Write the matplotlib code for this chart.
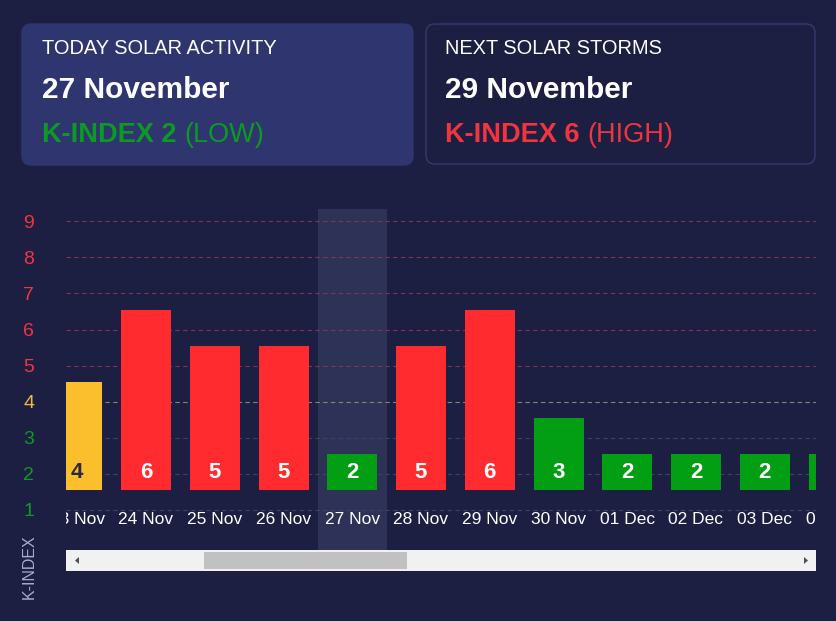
import matplotlib
matplotlib.use('Agg')
import matplotlib.pyplot as plt
from matplotlib.patches import FancyBboxPatch, Rectangle, Polygon

# ---------------- data ----------------
dates = ['23 Nov', '24 Nov', '25 Nov', '26 Nov', '27 Nov', '28 Nov',
         '29 Nov', '30 Nov', '01 Dec', '02 Dec', '03 Dec', '04 Dec']
kindex = [4, 6, 5, 5, 2, 5, 6, 3, 2, 2, 2, 2]
today_label = '27 Nov'
levels = [1, 2, 3, 4, 5, 6, 7, 8, 9]

card1_title = 'TODAY SOLAR ACTIVITY'
card1_date = '27 November'
card1_k = 2
card1_level = '(LOW)'
card2_title = 'NEXT SOLAR STORMS'
card2_date = '29 November'
card2_k = 6
card2_level = '(HIGH)'

# ---------------- style ----------------
BG = '#1c1f42'
CARD = '#2f356f'
RED = '#ff2b2e'
YEL = '#fbbf2d'
GRN = '#029e14'
TXT_RED = '#f0353f'
TXT_YEL = '#f5b83a'
TXT_GRN = '#0c9a22'
FONT = 'Liberation Sans'


def kcolor(v):
    return RED if v >= 5 else (YEL if v == 4 else GRN)


def tick_color(v):
    return TXT_RED if v >= 5 else (TXT_YEL if v == 4 else TXT_GRN)


def grid_color(v):
    return '#7a3656' if v >= 5 else ('#8c8468' if v == 4 else '#3e4266')


W, H = 836, 621
fig = plt.figure(figsize=(W / 100, H / 100), dpi=100, facecolor=BG)

# overlay axes in pixel coordinates
ov = fig.add_axes([0, 0, 1, 1], zorder=0)
ov.set_xlim(0, W)
ov.set_ylim(H, 0)
ov.axis('off')

# ---- cards ----
c1 = FancyBboxPatch((22, 24), 391, 141, boxstyle='round,pad=0,rounding_size=9',
                    facecolor=CARD, edgecolor=CARD, lw=1)
c2 = FancyBboxPatch((426, 24), 389, 140, boxstyle='round,pad=0,rounding_size=9',
                    facecolor=BG, edgecolor='#353b6e', lw=1)
ov.add_patch(c1)
ov.add_patch(c2)

renderer = fig.canvas.get_renderer()


def card_text(x, title, date, k, level, color):
    ov.text(x, 48, title, color='white', fontsize=14.4, family=FONT,
            va='center', ha='left')
    ov.text(x, 90, date, color='white', fontsize=21.5, family=FONT,
            fontweight='bold', va='center', ha='left')
    t = ov.text(x, 135, f'K-INDEX {k} ', color=color, fontsize=19.5, family=FONT,
                fontweight='bold', va='center', ha='left')
    bb = t.get_window_extent(renderer=renderer)
    ov.text(x + bb.width, 135, level, color=color, fontsize=19.5, family=FONT,
            va='center', ha='left')


card_text(42, card1_title, card1_date, card1_k, card1_level, TXT_GRN)
card_text(445, card2_title, card2_date, card2_k, card2_level, TXT_RED)

# ---- vertical axis title ----
ov.text(29, 567, 'K-INDEX', rotation=90, color='#a9acd2', fontsize=11.5,
        family=FONT, va='center', ha='center')

# ---- scrollbar ----
ov.add_patch(Rectangle((66, 550), 750, 21, facecolor='#f1f1f1', edgecolor='none'))
ov.add_patch(Rectangle((204, 552), 203, 17, facecolor='#c1c1c1', edgecolor='none'))
ov.add_patch(Polygon([(75, 560.5), (79, 557), (79, 564)], closed=True,
                     facecolor='#505050', edgecolor='none'))
ov.add_patch(Polygon([(808, 560.5), (804, 557), (804, 564)], closed=True,
                     facecolor='#505050', edgecolor='none'))

# ---------------- main chart ----------------
L, R, T, B = 66, 816, 209, 550
ax = fig.add_axes([L / W, 1 - B / H, (R - L) / W, (B - T) / H], zorder=1)
ax.set_facecolor('none')
unit = 36.1          # pixels per k-index level
y1_px = 510          # pixel row of level 1
spacing = 68.75      # pixels per category
x0c = 77.25          # pixel centre of first category
ax.set_ylim(1 - (B - y1_px) / unit, 1 + (y1_px - T) / unit)
ax.set_xlim((L - x0c) / spacing, (R - x0c) / spacing)
for s in ax.spines.values():
    s.set_visible(False)

xpos = list(range(len(dates)))
ti = dates.index(today_label)
ax.axvspan(ti - 0.5, ti + 0.5, color='#2e3256', zorder=0, lw=0)

for v in levels:
    ax.axhline(v, color=grid_color(v), lw=0.8, ls=(0, (4, 3)), zorder=1)

base = 1 + (y1_px - 490) / unit
heights = [v - 1 for v in kindex]
bars = ax.bar(xpos, heights, bottom=base, width=50 / spacing,
              color=[kcolor(v) for v in kindex], zorder=2, lw=0)

lab_y = 1 + (y1_px - 472) / unit
for x, v in zip(xpos, kindex):
    ax.text(x, lab_y, str(v), ha='center', va='center', fontsize=16,
            fontweight='bold', family=FONT,
            color='#2a2a3c' if v == 4 else 'white', zorder=3, clip_on=True)

date_y = 1 + (y1_px - 520) / unit
for x, d in zip(xpos, dates):
    ax.text(x, date_y, d, ha='center', va='center', fontsize=12.5,
            family=FONT, color='white', zorder=3, clip_on=True)

ax.set_xticks([])
ax.set_yticks(levels)
ax.set_yticklabels([str(v) for v in levels], fontsize=14, family=FONT)
for lbl, v in zip(ax.get_yticklabels(), levels):
    lbl.set_color(tick_color(v))
ax.tick_params(axis='y', length=0, pad=23)

fig.savefig('out.png', dpi=100, facecolor=BG)
